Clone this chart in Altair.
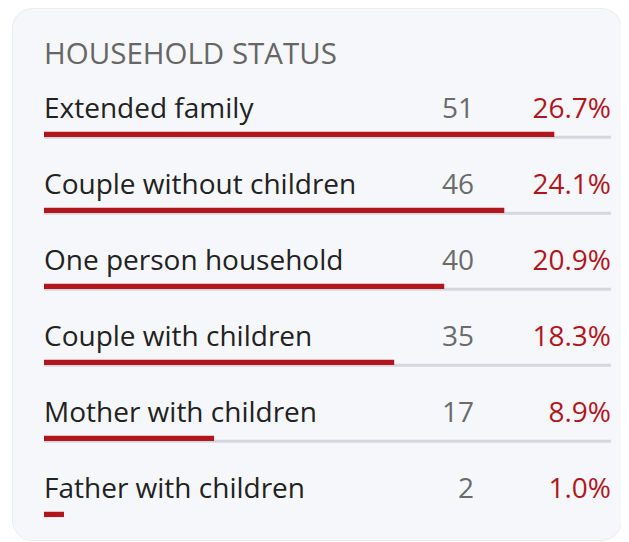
import altair as alt
import pandas as pd

categories = [
    "Extended family",
    "Couple without children",
    "One person household",
    "Couple with children",
    "Mother with children",
    "Father with children",
]
counts = [51, 46, 40, 35, 17, 2]
percents = ["26.7%", "24.1%", "20.9%", "18.3%", "8.9%", "1.0%"]
title_text = "HOUSEHOLD STATUS"

df = pd.DataFrame({"category": categories, "count": counts, "pct": percents})
title_df = pd.DataFrame({"t": [title_text]})

FONT = "Open Sans"
RED = "#b3151d"
TRACK = "#d6d7dc"

xmax = max(counts) / 0.9
xscale = alt.Scale(domain=[0, xmax], range=[32, 599], nice=False, zero=True)
yscale = alt.Scale(type="point", domain=categories, range=[110.3, 490.3], padding=0)
y = alt.Y("category:N", scale=yscale, axis=None, sort=categories)

base = alt.Chart(df).transform_calculate(zero="0", full=str(xmax))

# separator track under every row except the last one
track = (
    base.transform_filter(alt.datum.category != categories[-1])
    .mark_rule(color=TRACK, strokeWidth=3, yOffset=18.9)
    .encode(
        x=alt.X("zero:Q", scale=xscale, axis=None),
        x2="full:Q",
        y=y,
    )
)

bars = base.mark_rule(color=RED, strokeWidth=5.3, yOffset=16.1).encode(
    x=alt.X("zero:Q", scale=xscale, axis=None),
    x2="count:Q",
    y=y,
)

labels = base.mark_text(
    align="left", baseline="alphabetic", font=FONT, fontSize=28, color="#222222"
).encode(x=alt.value(32), y=y, text="category:N")

nums = base.mark_text(
    align="right", baseline="alphabetic", font=FONT, fontSize=28, color="#6b6b6b"
).encode(x=alt.value(462), y=y, text="count:Q")

pcts = base.mark_text(
    align="right", baseline="alphabetic", font=FONT, fontSize=28, color=RED
).encode(x=alt.value(599), y=y, text="pct:N")

title = alt.Chart(title_df).mark_text(
    align="left", baseline="alphabetic", font=FONT, fontSize=29.5, color="#666666"
).encode(x=alt.value(32), y=alt.value(56.3), text="t:N")

chart = (
    alt.layer(track, bars, labels, nums, pcts, title)
    .properties(
        width=609,
        height=532,
        autosize=alt.AutoSizeParams(type="none"),
        padding={"left": 4, "top": 0, "right": 0, "bottom": 2},
        background="white",
    )
    .configure_view(fill="#f6f7fb", stroke="#eaecf1", cornerRadius=20)
)

chart.save("out.html", embed_options={"renderer": "svg", "actions": False})
